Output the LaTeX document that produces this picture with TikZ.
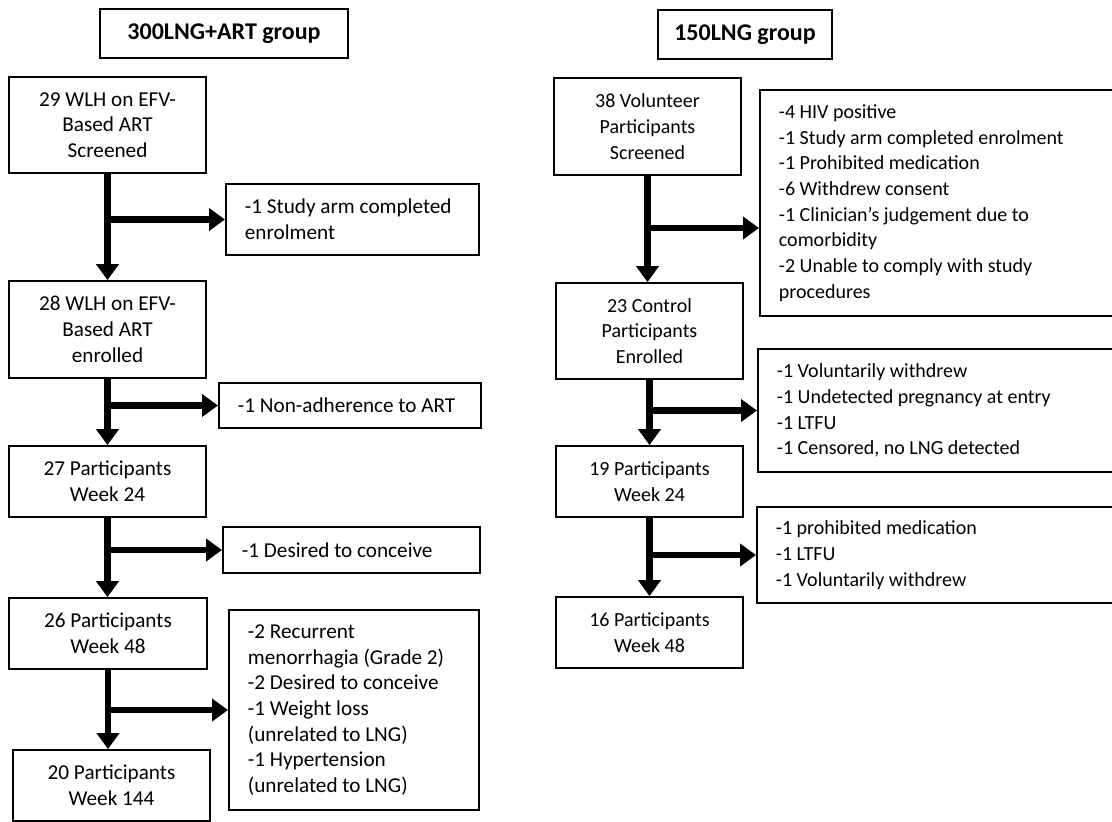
\documentclass[tikz,border=0pt]{standalone}
\usepackage{fontspec}
\setmainfont{Carlito}
\usetikzlibrary{arrows.meta}

\tikzset{
  box/.style={draw, line width=0.9pt, inner sep=0pt, align=center,
    font=\fontsize{10.6}{12.85}\selectfont},
  rbox/.style={box, font=\fontsize{10}{12.85}\selectfont},
  headbox/.style={box, font=\fontsize{12}{13}\selectfont\bfseries},
  sidebox/.style={box, anchor=west, align=flush left, inner xsep=9.5pt},
  rsidebox/.style={sidebox, font=\fontsize{10}{12.85}\selectfont},
  flow/.style={line width=3.25pt, -{Triangle[width=11pt,length=8pt]}}
}

\begin{document}
\begin{tikzpicture}[x=0.5pt, y=-0.5pt]
\useasboundingbox (0,0) rectangle (1112,821);

\node[headbox, minimum width=124pt, minimum height=24.5pt] (tL) at (224,33.5) {300LNG+ART group};
\node[headbox, minimum width=87pt, minimum height=24.5pt] (tR) at (745,34.5) {150LNG group};

\node[box, minimum width=98.5pt, minimum height=48pt] (L1) at (107.5,125) {29 WLH on EFV-\\Based ART\\Screened};
\node[box, minimum width=98.5pt, minimum height=48.5pt] (L2) at (107.5,329.5) {28 WLH on EFV-\\Based ART\\enrolled};
\node[box, minimum width=98.5pt, minimum height=35.5pt] (L3) at (107.5,481.5) {27 Participants\\Week 24};
\node[box, minimum width=99pt, minimum height=35.5pt] (L4) at (108,633.5) {26 Participants\\Week 48};
\node[box, minimum width=98.5pt, minimum height=35.5pt] (L5) at (111.5,785.5) {20 Participants\\Week 144};

\node[sidebox, text width=107.5pt, minimum height=35.5pt] (sL1) at (225,219.5) {-1 Study arm completed\\enrolment};
\node[sidebox, text width=112pt, minimum height=22.5pt] (sL2) at (218,405.5) {-1 Non-adherence to ART};
\node[sidebox, text width=109.5pt, minimum height=23pt] (sL3) at (222,550) {-1 Desired to conceive};
\node[sidebox, text width=106pt, minimum height=100pt] (sL4) at (228,710) {-2 Recurrent\\menorrhagia (Grade 2)\\-2 Desired to conceive\\-1 Weight loss\\(unrelated to LNG)\\-1 Hypertension\\(unrelated to LNG)};

\node[rbox, minimum width=93.5pt, minimum height=48.5pt] (R1) at (647.5,126.5) {38 Volunteer\\Participants\\Screened};
\node[rbox, minimum width=93.5pt, minimum height=48pt] (R2) at (649.5,331) {23 Control\\Participants\\Enrolled};
\node[rbox, minimum width=93.5pt, minimum height=35.5pt] (R3) at (649.5,481.5) {19 Participants\\Week 24};
\node[rbox, minimum width=93.5pt, minimum height=35.5pt] (R4) at (649.5,632.5) {16 Participants\\Week 48};

\node[rsidebox, text width=164pt, minimum height=113pt] (sR1) at (759,203) {-4 HIV positive\\-1 Study arm completed enrolment\\-1 Prohibited medication\\-6 Withdrew consent\\-1 Clinician’s judgement due to\\comorbidity\\-2 Unable to comply with study\\procedures};
\node[rsidebox, text width=158.5pt, minimum height=61.5pt] (sR2) at (757,410.5) {-1 Voluntarily withdrew\\-1 Undetected pregnancy at entry\\-1 LTFU\\-1 Censored, no LNG detected};
\node[rsidebox, text width=163pt, minimum height=48pt] (sR3) at (756,555) {-1 prohibited medication\\-1 LTFU\\-1 Voluntarily withdrew};

\coordinate (jR1) at (0,228);

\foreach \a/\b in {L1/L2, L2/L3, L3/L4, L4/L5, R1/R2, R2/R3, R3/R4}
  \draw[flow] (\a.south) -- (\a.south |- \b.north);

\foreach \a/\s in {L1/sL1, L2/sL2, L3/sL3, L4/sL4, R2/sR2, R3/sR3}
  \draw[flow] (\a.south |- \s.west) -- (\s.west);
\draw[flow] (R1.south |- jR1) -- (jR1 -| sR1.west);
\end{tikzpicture}
\end{document}
